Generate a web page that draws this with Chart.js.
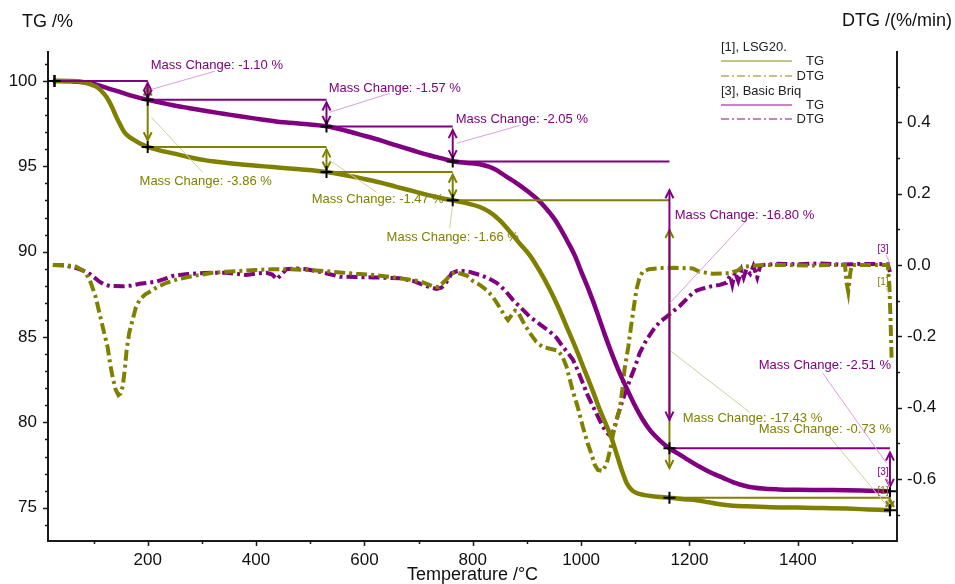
<!DOCTYPE html>
<html><head><meta charset="utf-8">
<script src="https://cdn.jsdelivr.net/npm/chart.js@4.4.1/dist/chart.umd.min.js"></script>
<style>html,body{margin:0;padding:0;background:#fff;}canvas{display:block;}</style>
</head><body>
<canvas id="c" width="955" height="584" style="width:955px;height:584px"></canvas>
<script>
// ---------------- DATA ----------------
const X_TICKS = [200, 400, 600, 800, 1000, 1200, 1400];
const X_MINOR = [100, 300, 500, 700, 900, 1100, 1300, 1500];
const TG_TICKS = [75, 80, 85, 90, 95, 100];
const TG_MINOR = [74, 76, 77, 78, 79, 81, 82, 83, 84, 86, 87, 88, 89, 91, 92, 93, 94, 96, 97, 98, 99, 101];
const DTG_TICKS = [-0.6, -0.4, -0.2, 0.0, 0.2, 0.4];
const DTG_MINOR = [-0.7, -0.5, -0.3, -0.1, 0.1, 0.3, 0.5];

// [1], LSG20.  TG (%) vs temperature (°C)
const LSG20_TG = [[25,100],[60,100],[80,99.94],[95,99.8],[106,99.65],[115,99.4],[124,99.06],[133,98.55],[142,97.9],[150,97.4],[157,97.0],[165,96.75],[172,96.6],[185,96.35],[200,96.14],[220,95.95],[247,95.76],[275,95.55],[308,95.35],[340,95.22],[370,95.12],[400,95.04],[431,94.96],[480,94.83],[530,94.67],[565,94.48],[597,94.28],[630,94.05],[659,93.8],[690,93.55],[720,93.3],[745,93.12],[763,93.01],[790,92.83],[813,92.62],[830,92.35],[850,91.84],[868,91.2],[886,90.5],[905,89.8],[923,88.9],[942,87.8],[960,86.6],[976,85.4],[992,84.2],[1007,83.0],[1022,81.8],[1035,80.7],[1047,79.8],[1057,79.0],[1066,78.1],[1075,77.2],[1084,76.45],[1093,76.05],[1102,75.86],[1117,75.74],[1132,75.67],[1163,75.58],[1190,75.5],[1213,75.44],[1235,75.32],[1256,75.2],[1280,75.12],[1305,75.08],[1350,75.03],[1398,75.01],[1445,74.98],[1490,74.95],[1530,74.9],[1570,74.85]];

// [3], Basic Briq  TG (%)
const BRIQ_TG = [[25,100],[60,99.98],[93,99.88],[124,99.6],[154,99.3],[175,99.1],[200,98.9],[225,98.73],[247,98.58],[275,98.42],[308,98.24],[340,98.08],[370,97.93],[410,97.75],[444,97.6],[474,97.53],[500,97.45],[530,97.35],[565,97.1],[597,96.82],[630,96.52],[659,96.23],[690,95.93],[720,95.65],[745,95.45],[763,95.3],[790,95.2],[813,95.12],[840,94.85],[862,94.4],[886,93.9],[905,93.45],[920,93.05],[935,92.55],[950,91.95],[961,91.4],[975,90.6],[988,89.8],[1000,88.85],[1016,87.6],[1030,86.4],[1043,85.2],[1057,84.0],[1071,82.9],[1084,82.0],[1099,81.0],[1113,80.2],[1127,79.55],[1145,78.95],[1163,78.48],[1180,78.15],[1195,77.85],[1219,77.4],[1243,77.0],[1262,76.75],[1280,76.5],[1305,76.26],[1335,76.12],[1365,76.07],[1398,76.05],[1450,76.04],[1490,76.03],[1530,76.0],[1570,75.97]];

// [1], LSG20.  DTG (%/min)
const LSG20_DTG = [[25,0.0],[45,0.0],[68,-0.005],[85,-0.02],[95,-0.05],[104,-0.09],[111,-0.135],[118,-0.18],[126,-0.23],[131,-0.28],[136,-0.32],[141,-0.35],[146,-0.365],[150,-0.36],[154,-0.34],[158,-0.29],[161,-0.24],[166,-0.19],[172,-0.155],[178,-0.12],[185,-0.098],[195,-0.083],[204,-0.075],[220,-0.06],[235,-0.05],[255,-0.04],[277,-0.033],[300,-0.027],[320,-0.022],[345,-0.019],[370,-0.017],[400,-0.014],[431,-0.012],[460,-0.012],[493,-0.014],[525,-0.017],[555,-0.021],[585,-0.025],[616,-0.028],[645,-0.033],[678,-0.04],[705,-0.047],[726,-0.06],[737,-0.062],[745,-0.05],[752,-0.04],[760,-0.025],[768,-0.02],[789,-0.03],[800,-0.045],[813,-0.056],[825,-0.07],[837,-0.089],[850,-0.12],[860,-0.145],[865,-0.155],[872,-0.14],[878,-0.128],[883,-0.131],[893,-0.16],[905,-0.19],[917,-0.215],[929,-0.23],[943,-0.235],[957,-0.24],[965,-0.255],[973,-0.285],[984,-0.35],[994,-0.4],[1003,-0.453],[1012,-0.5],[1019,-0.53],[1025,-0.56],[1031,-0.575],[1040,-0.578],[1046,-0.56],[1049,-0.547],[1054,-0.515],[1058,-0.482],[1064,-0.44],[1071,-0.406],[1076,-0.35],[1080,-0.294],[1087,-0.23],[1093,-0.163],[1098,-0.11],[1102,-0.07],[1107,-0.04],[1113,-0.02],[1125,-0.012],[1145,-0.009],[1175,-0.008],[1206,-0.01],[1219,-0.019],[1243,-0.025],[1274,-0.023],[1290,-0.015],[1298,-0.005],[1335,0.0],[1380,0.0],[1420,-0.002],[1460,0.0],[1487,0.0],[1490,-0.05],[1493,-0.075],[1497,-0.02],[1500,0.0],[1540,0.0],[1566,0.0],[1569,-0.06],[1571,-0.15],[1573,-0.26]];

// [3], Basic Briq  DTG (%/min)
const BRIQ_DTG = [[25,0.0],[50,-0.002],[68,-0.009],[80,-0.015],[93,-0.025],[103,-0.037],[111,-0.047],[120,-0.055],[130,-0.059],[154,-0.06],[170,-0.058],[185,-0.053],[200,-0.05],[216,-0.047],[230,-0.04],[246,-0.031],[270,-0.026],[296,-0.023],[320,-0.022],[345,-0.022],[365,-0.025],[382,-0.028],[400,-0.024],[419,-0.022],[430,-0.027],[438,-0.04],[445,-0.03],[456,-0.012],[475,-0.01],[493,-0.012],[520,-0.02],[555,-0.033],[585,-0.034],[616,-0.035],[640,-0.036],[665,-0.037],[690,-0.045],[708,-0.056],[722,-0.063],[733,-0.067],[742,-0.064],[748,-0.056],[755,-0.04],[761,-0.023],[772,-0.017],[781,-0.017],[795,-0.02],[813,-0.028],[830,-0.038],[844,-0.05],[860,-0.072],[874,-0.098],[890,-0.122],[905,-0.145],[920,-0.162],[942,-0.187],[955,-0.205],[966,-0.229],[975,-0.245],[985,-0.266],[995,-0.3],[1003,-0.331],[1012,-0.365],[1022,-0.397],[1031,-0.425],[1040,-0.453],[1047,-0.47],[1053,-0.478],[1058,-0.472],[1062,-0.455],[1068,-0.42],[1075,-0.387],[1083,-0.352],[1090,-0.322],[1100,-0.283],[1108,-0.247],[1120,-0.212],[1133,-0.182],[1145,-0.16],[1158,-0.145],[1170,-0.13],[1182,-0.115],[1195,-0.095],[1205,-0.08],[1213,-0.072],[1225,-0.066],[1240,-0.06],[1256,-0.056],[1268,-0.05],[1275,-0.03],[1279,-0.055],[1284,-0.02],[1290,-0.045],[1296,-0.015],[1300,-0.035],[1305,-0.012],[1312,-0.025],[1318,-0.003],[1325,-0.035],[1330,-0.005],[1335,0.0],[1360,0.003],[1400,0.002],[1440,0.004],[1480,0.001],[1520,0.003],[1566,0.002],[1570,-0.02]];

// Mass-change evaluation steps
const STEP_T = [28, 200, 530, 763, 1163, 1570];
const LSG20_LEVELS = [100, 96.14, 94.67, 93.01, 75.58, 74.85];
const BRIQ_LEVELS  = [100, 98.90, 97.33, 95.28, 78.48, 75.97];
const LSG20_CHANGES = ['-3.86', '-1.47', '-1.66', '-17.43', '-0.73'];
const BRIQ_CHANGES  = ['-1.10', '-1.57', '-2.05', '-16.80', '-2.51'];

// Label placement (data units: temperature, TG) — layout only
const LSG20_LABEL_AT = [[185,94.12],[502.7,93.07],[641,90.84],[1187.6,80.24],[1327.9,79.6]];
const BRIQ_LABEL_AT  = [[205.6,100.92],[534,99.57],[768.5,97.76],[1172.8,92.13],[1327.9,83.34]];
const LSG20_LEADER = [[207,97.87,301.5,94.65],[536,95.35,622.7,93.48],[763,92.84,757.5,91.37],[1163.6,84.22,1311.3,80.59],[1453,79.36,1564,75.14]];
const BRIQ_LEADER  = [[207,99.51,323.6,100.57],[536,98.17,647,99.28],[770.4,96.35,886.7,97.4],[1163.6,86.98,1305.7,91.84],[1446,82.88,1564,77.6]];

// ---------------- STYLE ----------------
const FONT = "'Liberation Sans', Arial, Helvetica, sans-serif";
const OLIVE = '#808000';
const PURPLE = '#800080';
const AXIS = '#1a1a1a';
const toXY = arr => arr.map(p => ({x: p[0], y: p[1]}));

const decor = {
  id: 'decor',
  afterDatasetsDraw(chart) {
    const ctx = chart.ctx;
    const sx = chart.scales.x, sy = chart.scales.yTG, sd = chart.scales.yDTG;
    const ca = chart.chartArea;
    const X = v => sx.getPixelForValue(v);
    const Y = v => sy.getPixelForValue(v);
    const D = v => sd.getPixelForValue(v);
    ctx.save();

    // ---- tick marks ----
    ctx.strokeStyle = AXIS; ctx.lineWidth = 1.5;
    const tick = (x1, y1, x2, y2) => { ctx.beginPath(); ctx.moveTo(x1, y1); ctx.lineTo(x2, y2); ctx.stroke(); };
    X_TICKS.forEach(v => tick(Math.round(X(v)) + 0.5, ca.bottom, Math.round(X(v)) + 0.5, ca.bottom + 5));
    X_MINOR.forEach(v => tick(Math.round(X(v)) + 0.5, ca.bottom, Math.round(X(v)) + 0.5, ca.bottom + 3));
    TG_TICKS.forEach(v => tick(ca.left, Math.round(Y(v)) + 0.5, ca.left - 5, Math.round(Y(v)) + 0.5));
    TG_MINOR.forEach(v => tick(ca.left, Math.round(Y(v)) + 0.5, ca.left - 3, Math.round(Y(v)) + 0.5));
    DTG_TICKS.forEach(v => tick(ca.right, Math.round(D(v)) + 0.5, ca.right + 5, Math.round(D(v)) + 0.5));
    DTG_MINOR.forEach(v => tick(ca.right, Math.round(D(v)) + 0.5, ca.right + 3, Math.round(D(v)) + 0.5));

    // ---- axis titles ----
    ctx.fillStyle = '#111';
    ctx.font = '18px ' + FONT;
    ctx.textBaseline = 'middle';
    ctx.textAlign = 'left';
    ctx.fillText('TG /%', 22, 22);
    ctx.fillText('DTG /(%/min)', 842, 21);
    ctx.textAlign = 'center';
    ctx.fillText('Temperature /\u00B0C', (ca.left + ca.right) / 2, 575);

    // ---- mass change annotations ----
    const arrowHead = (x, y, dir, col) => {
      ctx.strokeStyle = col; ctx.lineWidth = 2;
      ctx.beginPath(); ctx.moveTo(x - 4, y - dir * 8); ctx.lineTo(x, y); ctx.lineTo(x + 4, y - dir * 8); ctx.stroke();
    };
    const drawSteps = (levels, changes, labelAt, leaders, col, pale) => {
      for (let i = 0; i < changes.length; i++) {
        const x0 = X(STEP_T[i]), x1 = X(STEP_T[i + 1]);
        const ya = Y(levels[i]), yb = Y(levels[i + 1]);
        const gap = yb - ya;
        const a1 = ya + 0.1 * gap, a2 = yb - 0.1 * gap;
        ctx.strokeStyle = col; ctx.lineWidth = 2;
        ctx.beginPath(); ctx.moveTo(x0, ya); ctx.lineTo(x1, ya); ctx.stroke();
        ctx.beginPath(); ctx.moveTo(x1, a1); ctx.lineTo(x1, a2); ctx.stroke();
        arrowHead(x1, a1, -1, col);
        arrowHead(x1, a2, 1, col);
        // leader line
        const L = leaders[i];
        ctx.strokeStyle = pale; ctx.lineWidth = 1;
        ctx.beginPath(); ctx.moveTo(X(L[0]), Y(L[1])); ctx.lineTo(X(L[2]), Y(L[3])); ctx.stroke();
        // label
        ctx.fillStyle = col; ctx.font = '13px ' + FONT; ctx.textAlign = 'left'; ctx.textBaseline = 'middle';
        ctx.fillText('Mass Change: ' + changes[i] + ' %', X(labelAt[i][0]), Y(labelAt[i][1]));
      }
    };
    drawSteps(LSG20_LEVELS, LSG20_CHANGES, LSG20_LABEL_AT, LSG20_LEADER, OLIVE, '#cfcf9a');
    drawSteps(BRIQ_LEVELS, BRIQ_CHANGES, BRIQ_LABEL_AT, BRIQ_LEADER, PURPLE, '#dd9ddd');

    // crosses
    ctx.strokeStyle = '#000'; ctx.lineWidth = 2;
    const cross = (x, y) => { ctx.beginPath(); ctx.moveTo(x - 6, y); ctx.lineTo(x + 6, y); ctx.moveTo(x, y - 6); ctx.lineTo(x, y + 6); ctx.stroke(); };
    STEP_T.forEach((t, i) => { cross(X(t), Y(BRIQ_LEVELS[i])); cross(X(t), Y(LSG20_LEVELS[i])); });

    // curve end tags
    ctx.font = '10px ' + FONT; ctx.textAlign = 'center'; ctx.textBaseline = 'middle';
    const tag = (s, col, pale, tx, ty, lx, ly) => {
      ctx.strokeStyle = pale; ctx.lineWidth = 1;
      ctx.beginPath(); ctx.moveTo(tx + 3, ty + 6); ctx.lineTo(lx, ly); ctx.stroke();
      ctx.fillStyle = col; ctx.fillText(s, tx, ty);
    };
    const tEnd = STEP_T[STEP_T.length - 1];
    tag('[3]', PURPLE, '#dd9ddd', X(tEnd) - 7, D(0.045), X(tEnd), D(0.005));
    tag('[1]', OLIVE, '#cfcf9a', X(tEnd) - 7, D(-0.048), X(tEnd), D(-0.085));
    tag('[3]', PURPLE, '#dd9ddd', X(tEnd) - 7, Y(77.1), X(tEnd), Y(76.2));
    tag('[1]', OLIVE, '#cfcf9a', X(tEnd) - 7, Y(75.95), X(tEnd), Y(75.2));

    // ---- legend ----
    ctx.textBaseline = 'middle';
    ctx.font = '13px ' + FONT;
    ctx.fillStyle = '#222';
    ctx.textAlign = 'left';
    ctx.fillText('[1], LSG20.', 721, 47);
    ctx.fillText('[3], Basic Briq', 721, 91);
    ctx.textAlign = 'right';
    ctx.fillText('TG', 824, 61);
    ctx.fillText('DTG', 824, 76);
    ctx.fillText('TG', 824, 105);
    ctx.fillText('DTG', 824, 119);
    const legLine = (y, col, dash) => {
      ctx.strokeStyle = col; ctx.lineWidth = 1.5; ctx.setLineDash(dash);
      ctx.beginPath(); ctx.moveTo(721, y); ctx.lineTo(792, y); ctx.stroke(); ctx.setLineDash([]);
    };
    legLine(61, '#b0b060', []);
    legLine(76, '#b0b060', [8, 3, 2, 3]);
    legLine(105, '#b857b8', []);
    legLine(119, '#b857b8', [8, 3, 2, 3]);

    ctx.restore();
  }
};

const tickFont = {family: FONT, size: 17};
new Chart(document.getElementById('c'), {
  type: 'line',
  data: {
    datasets: [
      {label: '[1] TG', data: toXY(LSG20_TG), yAxisID: 'yTG', borderColor: OLIVE, borderWidth: 4.5, cubicInterpolationMode: 'monotone', pointRadius: 0, fill: false},
      {label: '[3] TG', data: toXY(BRIQ_TG), yAxisID: 'yTG', borderColor: PURPLE, borderWidth: 4.5, cubicInterpolationMode: 'monotone', pointRadius: 0, fill: false},
      {label: '[1] DTG', data: toXY(LSG20_DTG), yAxisID: 'yDTG', borderColor: OLIVE, borderWidth: 4, borderDash: [11, 4, 3, 4], tension: 0, pointRadius: 0, fill: false},
      {label: '[3] DTG', data: toXY(BRIQ_DTG), yAxisID: 'yDTG', borderColor: PURPLE, borderWidth: 4, borderDash: [11, 4, 3, 4], tension: 0, pointRadius: 0, fill: false}
    ]
  },
  options: {
    responsive: false, animation: false, devicePixelRatio: 1,
    layout: {padding: {top: 52, left: 0, right: 0, bottom: 0}},
    plugins: {legend: {display: false}, tooltip: {enabled: false}, title: {display: false}},
    scales: {
      x: {
        type: 'linear', position: 'bottom', min: 16, max: 1583,
        grid: {display: false, drawTicks: true, tickLength: 5},
        border: {display: true, color: AXIS, width: 2},
        ticks: {font: tickFont, color: '#111', padding: 4, maxRotation: 0, autoSkip: false, callback: v => String(v)},
        afterBuildTicks: s => { s.ticks = X_TICKS.map(v => ({value: v})); },
        afterFit: s => { s.height = 43; }
      },
      yTG: {
        type: 'linear', position: 'left', min: 73.05, max: 101.7,
        grid: {display: false, drawTicks: true, tickLength: 5},
        border: {display: true, color: AXIS, width: 2},
        ticks: {font: tickFont, color: '#111', padding: 6, autoSkip: false, callback: v => String(v)},
        afterBuildTicks: s => { s.ticks = TG_TICKS.map(v => ({value: v})); },
        afterFit: s => { s.width = 48; }
      },
      yDTG: {
        type: 'linear', position: 'right', min: -0.774, max: 0.597,
        grid: {display: false, drawTicks: true, tickLength: 5},
        border: {display: true, color: AXIS, width: 2},
        ticks: {font: tickFont, color: '#111', padding: 5, autoSkip: false, callback: v => (Math.abs(v) < 1e-9 ? '0.0' : v.toFixed(1))},
        afterBuildTicks: s => { s.ticks = DTG_TICKS.map(v => ({value: v})); },
        afterFit: s => { s.width = 58; }
      }
    }
  },
  plugins: [decor]
});
</script>
</body></html>
